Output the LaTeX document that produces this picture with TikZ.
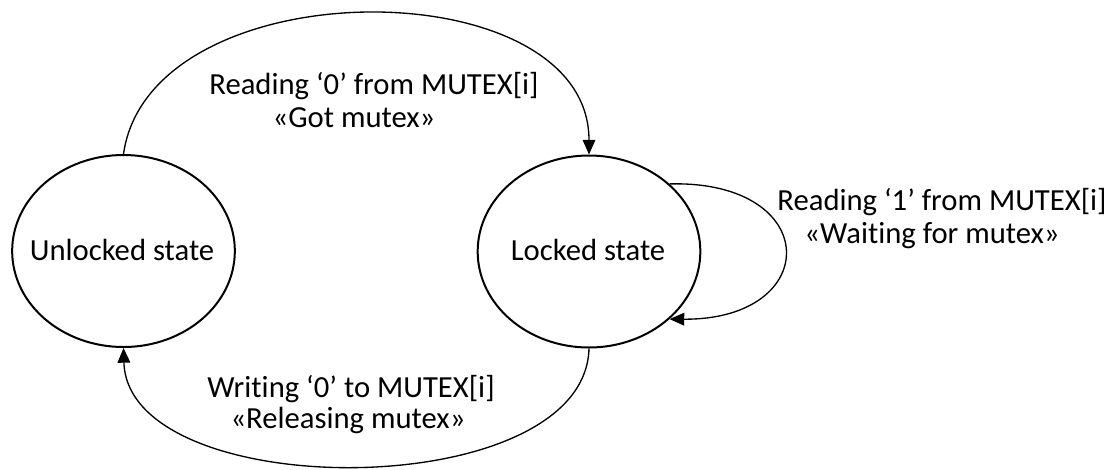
\documentclass[tikz,border=0pt]{standalone}
\usepackage{fontspec}
\setmainfont{Carlito}[Ligatures=NoCommon]
\usetikzlibrary{shapes.geometric,arrows.meta}
\begin{document}
\begin{tikzpicture}[x=0.75pt,y=-0.75pt,
  every node/.style={font=\fontsize{23}{27}\selectfont},
  statenode/.style={shape=ellipse,draw,line width=1.5pt,inner sep=0pt,
    minimum width=167pt,minimum height=144pt},
  lbl/.style={anchor=base,inner sep=0pt},
  conn/.style={line width=1pt,-{Triangle[length=11pt,width=9.5pt]}}]
\useasboundingbox (0,0) rectangle (1117,469);
\node[statenode] (U) at (123.5,251) {};
\node[statenode] (L) at (589,251.5) {};
\node[lbl] (Ut) at (122,260) {Unlocked state};
\node[lbl] (Lt) at (588,260) {Locked state};
\draw[conn] (U.north) .. controls (150,-33) and (589,-33) .. (L.north);
\draw[conn] (L.south) .. controls (585,505) and (128,505) .. (U.south);
\draw[conn] (L.40) .. controls (823,180) and (823,320) .. (L.-40);
\node[lbl] (t1) at (374,94) {Reading ‘0’ from MUTEX[i]};
\node[lbl] (t2) at (354,127) {«Got mutex»};
\node[lbl] (r1) at (942,210) {Reading ‘1’ from MUTEX[i]};
\node[lbl] (r2) at (932,243) {«Waiting for mutex»};
\node[lbl] (b1) at (351,397) {Writing ‘0’ to MUTEX[i]};
\node[lbl] (b2) at (348,428) {«Releasing mutex»};
\end{tikzpicture}
\end{document}
